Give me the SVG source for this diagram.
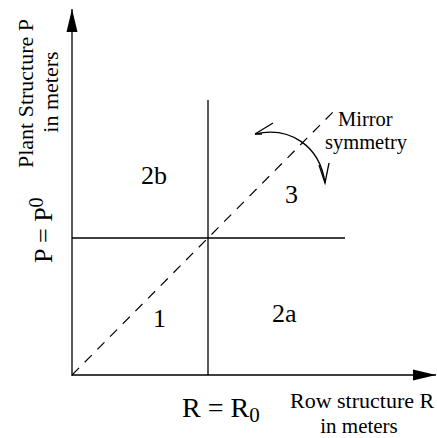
<svg xmlns="http://www.w3.org/2000/svg" width="437" height="438" viewBox="0 0 437 438">
<style>
.ln{stroke:#000;stroke-width:1.3;fill:none}
.ds{stroke:#000;stroke-width:1.2;fill:none;stroke-dasharray:10,8}
.ax{font-size:22px}
.sm{font-size:21px}
.mi{font-size:20.5px}
.lab{font-size:26px}
</style>
<defs>
<marker id="ah" markerWidth="24" markerHeight="12" refX="23" refY="6" orient="auto" markerUnits="userSpaceOnUse">
<path d="M0,0.5 L23,6 L0,11.5 Z" fill="#000"/>
</marker>
</defs>
<g id="connectors">
<line class="ln" x1="72" y1="376" x2="72" y2="9" marker-end="url(#ah)"/>
<line class="ln" x1="72" y1="375" x2="436" y2="375" marker-end="url(#ah)"/>
<line class="ln" x1="208" y1="100" x2="208" y2="375"/>
<line class="ln" x1="72" y1="238" x2="345" y2="238"/>
<line class="ds" x1="72" y1="375" x2="333" y2="112"/>
<path class="ln" d="M255,134 C290,126 320,146 325,183"/>
<path class="ln" d="M255,134 L273,123 M255,134 L262,134"/>
<path class="ln" d="M319,165 L325,183 L329,163"/>
</g>
<g id="labels" font-family="'Liberation Serif', 'Times New Roman', 'DejaVu Serif', serif" fill="#000">
<text class="ax" transform="translate(33,93.5) rotate(-90)" text-anchor="middle">Plant Structure P</text>
<text class="ax" transform="translate(58,92) rotate(-90)" text-anchor="middle">in meters</text>
<text transform="translate(52,263) rotate(-90)" font-size="26">P = P<tspan font-size="20" dy="-9">0</tspan></text>
<text x="182" y="417" font-size="28">R = R<tspan font-size="21" dy="5">0</tspan></text>
<text class="ax" x="290" y="408">Row structure R</text>
<text class="sm" x="359" y="433" text-anchor="middle">in meters</text>
<text class="mi" x="338" y="126">Mirror</text>
<text class="mi" x="325" y="149">symmetry</text>
<text class="lab" x="141" y="184">2b</text>
<text class="lab" x="285" y="203">3</text>
<text class="lab" x="153" y="327">1</text>
<text class="lab" x="272" y="322">2a</text>
</g>
</svg>
